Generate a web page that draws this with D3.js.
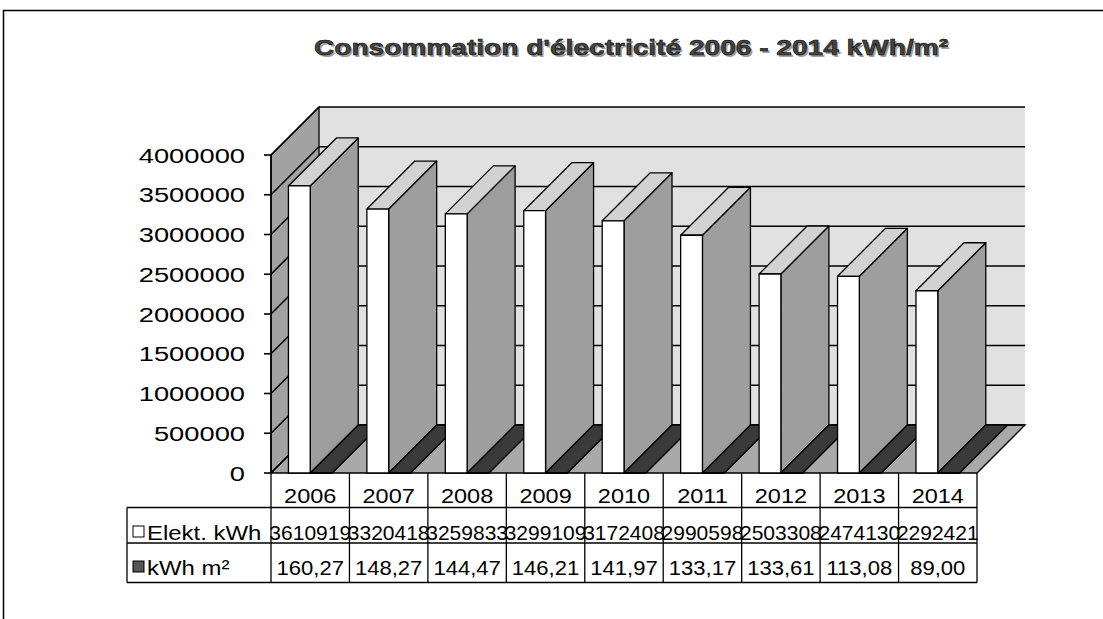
<!DOCTYPE html>
<html>
<head>
<meta charset="utf-8">
<script src="https://cdn.jsdelivr.net/npm/d3@7"></script>
<style>
  body { margin: 0; background: #fff; }
  svg { display: block; font-family: "Liberation Sans", Arial, sans-serif; }
</style>
</head>
<body>
<div id="chart"></div>
<script>
// values
const years = ["2006", "2007", "2008", "2009", "2010", "2011", "2012", "2013", "2014"];
const elektKwh = [3610919, 3320418, 3259833, 3299109, 3172408, 2990598, 2503308, 2474130, 2292421];
const kwhM2 = [160.27, 148.27, 144.47, 146.21, 141.97, 133.17, 133.61, 113.08, 89.00];
const seriesNames = ["Elekt. kWh", "kWh m²"];
const yMax = 4000000;
const titleText = "Consommation  d'électricité 2006 - 2014 kWh/m²";

const W = 1103, H = 619;
const plot = {left: 271, right: 977, base: 473, top: 155};
const D = 48; // 3d depth offset (right and up)

const frFormat = d3.formatLocale({decimal: ",", thousands: "", grouping: [3], currency: ["", ""]}).format(".2f");

const svg = d3.select("#chart").append("svg")
    .attr("width", W)
    .attr("height", H);

// outer frame of the scanned chart
svg.append("rect")
    .attr("x", 3.5).attr("y", 10.5)
    .attr("width", W + 20).attr("height", H + 20)
    .attr("fill", "none").attr("stroke", "#000").attr("stroke-width", 1.5);

const x = d3.scaleBand().domain(years).range([plot.left, plot.right]);
const xs = d3.scaleBand().domain(seriesNames).range([0, x.bandwidth()]).paddingOuter(0.8);
const y = d3.scaleLinear().domain([0, yMax]).range([plot.base, plot.top]);
const ticks = y.ticks(8);

const poly = pts => "M" + pts.map(p => p.join(",")).join("L") + "Z";
const L = plot.left, R = plot.right;

// title, with a grey shadow
const title = svg.append("g")
    .attr("font-weight", "bold").attr("font-size", 22).attr("text-anchor", "middle")
    .style("white-space", "pre");
title.append("text")
    .attr("x", 633).attr("y", 57)
    .attr("textLength", 634).attr("lengthAdjust", "spacingAndGlyphs")
    .attr("fill", "#a0a0a0")
    .text(titleText);
title.append("text")
    .attr("x", 631).attr("y", 55)
    .attr("textLength", 634).attr("lengthAdjust", "spacingAndGlyphs")
    .attr("fill", "#444").attr("stroke", "#000").attr("stroke-width", 0.5)
    .text(titleText);

// walls and floor
const walls = svg.append("g").attr("stroke", "#000").attr("stroke-width", 1.3);
walls.append("path")
    .attr("d", poly([[L + D, plot.top - D], [R + D, plot.top - D], [R + D, plot.base - D], [L + D, plot.base - D]]))
    .attr("fill", "#e1e1e1").attr("stroke", "none");
walls.append("path")
    .attr("d", poly([[L, plot.base], [L, plot.top], [L + D, plot.top - D], [L + D, plot.base - D]]))
    .attr("fill", "#a2a2a2");
walls.append("path")
    .attr("d", poly([[L, plot.base], [R, plot.base], [R + D, plot.base - D], [L + D, plot.base - D]]))
    .attr("fill", "#a9a9a9");

// grid lines: back wall + left wall, and the axis ticks
const grid = svg.append("g").attr("stroke", "#000").attr("stroke-width", 1.6);
grid.selectAll(".back-grid").data(ticks).join("line")
    .attr("class", "back-grid")
    .attr("x1", L + D).attr("x2", R + D)
    .attr("y1", d => y(d) - D).attr("y2", d => y(d) - D);
grid.selectAll(".side-grid").data(ticks).join("line")
    .attr("class", "side-grid")
    .attr("x1", L).attr("x2", L + D)
    .attr("y1", d => y(d)).attr("y2", d => y(d) - D);
grid.selectAll(".tick").data(ticks).join("line")
    .attr("class", "tick")
    .attr("x1", L - 7).attr("x2", L)
    .attr("y1", d => y(d)).attr("y2", d => y(d));
grid.append("line")
    .attr("x1", L).attr("x2", L)
    .attr("y1", plot.base).attr("y2", plot.top);

// y labels (the scan is stretched sideways)
svg.append("g").attr("font-size", 21).attr("text-anchor", "end")
  .selectAll("text").data(ticks).join("text")
    .attr("transform", d => `translate(245,${y(d) + 7.5}) scale(1.3,1)`)
    .text(d => d3.format("d")(d));

// 3d bars
function bar3d(g, xb, w, val, front, side, top) {
  const yv = y(val), yb = plot.base;
  g.append("path")
      .attr("d", poly([[xb + w, yv], [xb + w, yb], [xb + w + D, yb - D], [xb + w + D, yv - D]]))
      .attr("fill", side);
  g.append("path")
      .attr("d", poly([[xb, yv], [xb + w, yv], [xb + w + D, yv - D], [xb + D, yv - D]]))
      .attr("fill", top);
  g.append("rect")
      .attr("x", xb).attr("y", yv)
      .attr("width", w).attr("height", yb - yv)
      .attr("fill", front);
}

const bars = svg.append("g").attr("stroke", "#000").attr("stroke-width", 1.3).attr("stroke-linejoin", "round");
years.forEach((yr, i) => {
  const g = bars.append("g").attr("class", "year-" + yr);
  bar3d(g, x(yr) + xs(seriesNames[0]), xs.bandwidth(), elektKwh[i], "#fff", "#9e9e9e", "#d2d2d2");
  bar3d(g, x(yr) + xs(seriesNames[1]), xs.bandwidth(), kwhM2[i], "#3a3a3a", "#3a3a3a", "#3a3a3a");
});

// data table under the chart
const rowY = [473, 507.5, 543, 582.5];
const legendLeft = 127;
const table = svg.append("g").attr("stroke", "#000").attr("stroke-width", 1.3);
table.selectAll(".col-line").data(years.concat(["end"])).join("line")
    .attr("class", "col-line")
    .attr("x1", d => d === "end" ? R : x(d)).attr("x2", d => d === "end" ? R : x(d))
    .attr("y1", rowY[0]).attr("y2", rowY[3]);
table.selectAll(".row-line").data(rowY.slice(1)).join("line")
    .attr("class", "row-line")
    .attr("x1", legendLeft).attr("x2", R)
    .attr("y1", d => d).attr("y2", d => d);
table.append("line")
    .attr("x1", legendLeft).attr("x2", legendLeft)
    .attr("y1", rowY[1]).attr("y2", rowY[3]);

const cells = svg.append("g").attr("font-size", 21).attr("text-anchor", "middle");
cells.selectAll(".year-label").data(years).join("text")
    .attr("class", "year-label")
    .attr("transform", d => `translate(${x(d) + x.bandwidth() / 2},503) scale(1.12,1)`)
    .text(d => d);
cells.selectAll(".elekt-val").data(elektKwh).join("text")
    .attr("class", "elekt-val")
    .attr("transform", (d, i) => `translate(${x(years[i]) + x.bandwidth() / 2},540)`)
    .text(d => d);
cells.selectAll(".m2-val").data(kwhM2).join("text")
    .attr("class", "m2-val")
    .attr("transform", (d, i) => `translate(${x(years[i]) + x.bandwidth() / 2},575) scale(1.05,1)`)
    .text(d => frFormat(d));

// legend keys in the table's first column
const legendRows = [
  {name: seriesNames[0], fill: "#fff", base: 540},
  {name: seriesNames[1], fill: "#555", base: 575}
];
const legend = svg.append("g").selectAll("g").data(legendRows).join("g");
legend.append("rect")
    .attr("x", 133).attr("y", d => d.base - 14)
    .attr("width", 11).attr("height", 11)
    .attr("fill", d => d.fill).attr("stroke", "#000").attr("stroke-width", 1);
legend.append("text")
    .attr("transform", d => `translate(147,${d.base}) scale(1.14,1)`)
    .attr("font-size", 21)
    .text(d => d.name);
</script>
</body>
</html>
